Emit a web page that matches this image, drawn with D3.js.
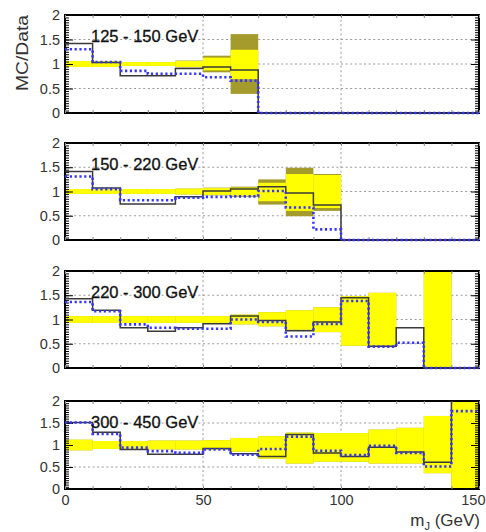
<!DOCTYPE html>
<html><head><meta charset="utf-8">
<script src="https://cdn.jsdelivr.net/npm/d3@7/dist/d3.min.js"></script>
<style>body{margin:0;background:#fff}svg{display:block}text{font-family:"Liberation Sans",Arial,Helvetica,sans-serif}</style>
</head><body>
<svg id="c" width="486" height="532"></svg>
<script>
// ---- data ----
const binEdges = [0,10,20,30,40,50,60,70,80,90,100,110,120,130,140,150];
const xTickValues = [0,50,100,150];
const yTickValues = [0,0.5,1,1.5,2];
const ptLabels = ["125 - 150 GeV","150 - 220 GeV","220 - 300 GeV","300 - 450 GeV"];
const N = null;

// panel 1: 125-150 GeV
const solid1  = [1.42,1.03,0.76,0.76,0.91,0.94,0.88,0,0,0,0,0,0,0,0];
const dotted1 = [1.30,1.04,0.86,0.80,0.80,0.73,0.66,0,0,0,0,0,0,0,0];
const yelLo1  = [0.94,0.94,0.96,0.96,0.94,0.87,0.69,N,N,N,N,N,N,N,N];
const yelHi1  = [1.06,1.06,1.04,1.04,1.06,1.13,1.29,N,N,N,N,N,N,N,N];
const oliLo1  = [0.94,0.94,0.96,0.96,0.93,0.83,0.39,N,N,N,N,N,N,N,N];
const oliHi1  = [1.06,1.06,1.04,1.04,1.07,1.17,1.61,N,N,N,N,N,N,N,N];

// panel 2: 150-220 GeV
const solid2  = [1.41,1.07,0.74,0.74,0.89,1.01,1.05,1.10,0.97,0.72,0,0,0,0,0];
const dotted2 = [1.31,1.05,0.82,0.82,0.87,0.89,0.90,1.01,0.67,0.22,0,0,0,0,0];
const yelLo2  = [0.95,0.95,0.95,0.95,0.94,0.93,0.91,0.80,0.60,0.66,N,N,N,N,N];
const yelHi2  = [1.05,1.05,1.05,1.05,1.06,1.07,1.08,1.18,1.36,1.34,N,N,N,N,N];
const oliLo2  = [0.95,0.95,0.95,0.95,0.94,0.92,0.89,0.73,0.49,0.60,N,N,N,N,N];
const oliHi2  = [1.05,1.05,1.05,1.05,1.06,1.08,1.10,1.25,1.49,1.36,N,N,N,N,N];

// panel 3: 220-300 GeV
const solid3  = [1.43,1.19,0.83,0.76,0.83,0.91,1.07,0.98,0.77,0.95,1.45,0.45,0.83,0,0];
const dotted3 = [1.36,1.17,0.90,0.83,0.81,0.81,1.00,0.95,0.65,0.91,1.38,0.44,0.52,0,0];
const yelLo3  = [0.93,0.93,0.93,0.93,0.93,0.93,0.90,0.86,0.79,0.74,0.46,0.43,N,0,N];
const yelHi3  = [1.07,1.07,1.07,1.07,1.07,1.07,1.10,1.15,1.19,1.25,1.48,1.55,N,2.2,N];
const oliLo3  = yelLo3;
const oliHi3  = yelHi3;

// panel 4: 300-450 GeV
const solid4  = [1.51,1.29,0.90,0.79,0.79,0.92,0.80,0.74,1.24,0.82,0.74,0.95,0.84,0.61,2.5];
const dotted4 = [1.51,1.25,0.94,0.86,0.82,0.90,0.78,0.91,1.19,0.87,0.77,0.98,0.82,0.51,1.77];
const yelLo4  = [0.88,0.91,0.91,0.90,0.90,0.89,0.85,0.69,0.58,0.62,0.62,0.58,0.58,0.36,0];
const yelHi4  = [1.12,1.09,1.09,1.10,1.10,1.11,1.16,1.20,1.28,1.27,1.27,1.35,1.39,1.66,2.2];
const oliLo4  = yelLo4;
const oliHi4  = yelHi4;

const panels = [
  {label: ptLabels[0], solid: solid1, dotted: dotted1, yLo: yelLo1, yHi: yelHi1, oLo: oliLo1, oHi: oliHi1},
  {label: ptLabels[1], solid: solid2, dotted: dotted2, yLo: yelLo2, yHi: yelHi2, oLo: oliLo2, oHi: oliHi2},
  {label: ptLabels[2], solid: solid3, dotted: dotted3, yLo: yelLo3, yHi: yelHi3, oLo: oliLo3, oHi: oliHi3},
  {label: ptLabels[3], solid: solid4, dotted: dotted4, yLo: yelLo4, yHi: yelHi4, oLo: oliLo4, oHi: oliHi4}
];

// ---- layout ----
const frames = [[15,113],[143,240],[271,368],[401,489]];
const svg = d3.select('#c');
const x = d3.scaleLinear().domain([0,150]).range([65,479]);
const YELLOW = '#ffff00', OLIVE = '#a39b2c', BLUE = '#3535ff', BLACK = '#3a3a3a', GRID = '#9a9a9a';
const defs = svg.append('defs');

panels.forEach((p, i) => {
  const [top, bot] = frames[i];
  const y = d3.scaleLinear().domain([0,2]).range([bot, top]);
  const g = svg.append('g');

  defs.append('clipPath').attr('id','cb'+i).append('rect')
    .attr('x', x(0)).attr('y', top).attr('width', x(150)-x(0)).attr('height', bot-top);
  defs.append('clipPath').attr('id','cl'+i).append('rect')
    .attr('x', x(0)-3).attr('y', top).attr('width', x(150)-x(0)+6).attr('height', bot-top+3);

  // grid
  const grid = g.append('g').attr('stroke', GRID).attr('stroke-width', 1).attr('stroke-dasharray','2,2.6');
  [0.5,1,1.5].forEach(v => grid.append('line').attr('x1', x(0)).attr('x2', x(150)).attr('y1', y(v)).attr('y2', y(v)));
  [50,100].forEach(v => grid.append('line').attr('x1', x(v)).attr('x2', x(v)).attr('y1', top).attr('y2', bot));

  // bands
  const bands = g.append('g').attr('clip-path', `url(#cb${i})`);
  const idx = d3.range(15);
  bands.selectAll('rect.o').data(idx.filter(j => p.oLo[j] != null)).join('rect')
    .attr('x', j => x(binEdges[j])).attr('width', j => x(binEdges[j+1]) - x(binEdges[j]))
    .attr('y', j => y(p.oHi[j])).attr('height', j => y(p.oLo[j]) - y(p.oHi[j]))
    .attr('fill', OLIVE);
  bands.selectAll('rect.yy').data(idx.filter(j => p.yLo[j] != null)).join('rect')
    .attr('x', j => x(binEdges[j])).attr('width', j => x(binEdges[j+1]) - x(binEdges[j]))
    .attr('y', j => y(p.yHi[j])).attr('height', j => y(p.yLo[j]) - y(p.yHi[j]))
    .attr('fill', YELLOW);

  // frame
  g.append('rect').attr('x', x(0)).attr('y', top).attr('width', x(150)-x(0)).attr('height', bot-top)
    .attr('fill','none').attr('stroke','#000').attr('stroke-width', 2);

  // ticks
  const styleAxis = sel => { sel.select('.domain').remove(); sel.selectAll('line').attr('stroke','#000').attr('stroke-width',1); };
  const yMinor = d3.range(0, 2.0001, 0.05);
  const xMinor = d3.range(0, 150.001, 10);
  g.append('g').attr('transform', `translate(${x(0)},0)`)
    .call(d3.axisLeft(y).tickValues(yMinor).tickSize(-4).tickFormat('')).call(styleAxis);
  g.append('g').attr('transform', `translate(${x(150)},0)`)
    .call(d3.axisRight(y).tickValues(yMinor).tickSize(-4).tickFormat('')).call(styleAxis);
  g.append('g').attr('transform', `translate(${x(150)},0)`)
    .call(d3.axisRight(y).tickValues(yTickValues).tickSize(-8).tickFormat('')).call(styleAxis);
  const la = g.append('g').attr('transform', `translate(${x(0)},0)`)
    .call(d3.axisLeft(y).tickValues(yTickValues).tickSize(-8).tickPadding(5).tickFormat(d3.format('~g')))
    .call(styleAxis);
  la.selectAll('text').attr('font-size', 14.5).attr('fill', '#333')
    .style('font-family','"Liberation Sans",Arial,sans-serif');
  g.append('g').attr('transform', `translate(0,${top})`)
    .call(d3.axisTop(x).tickValues(xMinor).tickSize(-3).tickFormat('')).call(styleAxis)
    .selectAll('line').attr('stroke','#888');
  const ba = g.append('g').attr('transform', `translate(0,${bot})`)
    .call(d3.axisBottom(x).tickValues(xMinor).tickSize(-3).tickFormat('')).call(styleAxis);
  ba.selectAll('line').attr('stroke','#888');
  if (i === 3) {
    const xa = g.append('g').attr('transform', `translate(0,${bot})`)
      .call(d3.axisBottom(x).tickValues(xTickValues).tickSize(0).tickPadding(6).tickFormat(d3.format('~g')))
      .call(styleAxis);
    xa.selectAll('text').attr('font-size', 14.5).attr('fill', '#333')
      .style('font-family','"Liberation Sans",Arial,sans-serif')
      .filter(d => d === 150).attr('text-anchor','end').attr('dx', 6);
  }

  // histograms
  const line = d3.line().x(d => x(d[0])).y(d => y(d[1])).curve(d3.curveStepAfter);
  const pts = vals => vals.map((v, j) => [binEdges[j], v]).concat([[binEdges[15], vals[14]]]);
  const hg = g.append('g').attr('clip-path', `url(#cl${i})`).attr('fill','none');
  hg.append('path').attr('d', line(pts(p.solid))).attr('stroke', BLACK).attr('stroke-width', 1.5);
  hg.append('path').attr('d', line(pts(p.dotted))).attr('stroke', BLUE).attr('stroke-width', 2.6)
    .attr('stroke-dasharray', '2.2,2.6');

  // label
  g.append('text').attr('x', 91).attr('y', top + 27).attr('font-size', 16.5).attr('fill', '#111')
    .attr('stroke','#111').attr('stroke-width',0.3).text(p.label);
});

// axis titles
svg.append('text').attr('transform', 'translate(28,53) rotate(-90)').attr('text-anchor','middle')
  .attr('font-size', 17).attr('fill', '#333').attr('textLength', 76).attr('lengthAdjust','spacingAndGlyphs')
  .text('MC/Data');
const xt = svg.append('text').attr('x', 480).attr('y', 526).attr('text-anchor','end')
  .attr('font-size', 17).attr('fill', '#333');
xt.append('tspan').text('m');
xt.append('tspan').attr('font-size', 11).attr('dy', 4).text('J');
xt.append('tspan').attr('dy', -4).text(' (GeV)');
</script>
</body></html>
